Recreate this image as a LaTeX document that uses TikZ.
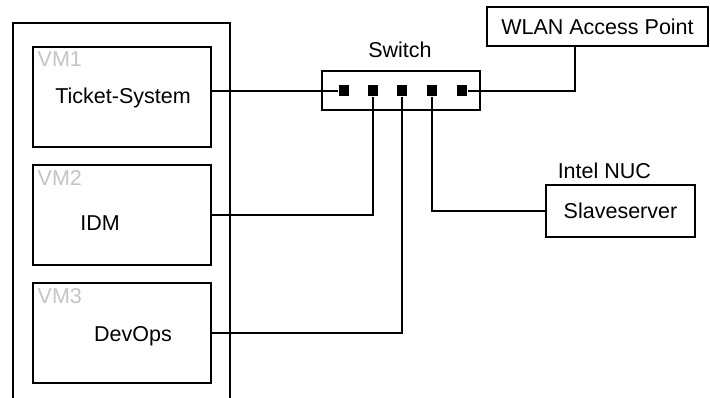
\documentclass[tikz,border=0pt]{standalone}
\usepackage{fontspec}
\setmainfont{Liberation Sans}
\definecolor{vmgray}{HTML}{C4C4C4}
\begin{document}
\begin{tikzpicture}[x=1pt,y=-1pt,line width=1.5pt,
  txt/.style={font=\fontsize{21.5}{25}\selectfont},
  box/.style={draw,rectangle,inner sep=0pt},
  vmbox/.style={box,minimum width=178pt,minimum height=100pt},
  port/.style={fill=black,rectangle,inner sep=0pt,minimum width=10pt,minimum height=11pt},
  vmlabel/.style={txt,text=vmgray,anchor=base west,inner sep=0pt}]
\useasboundingbox (0,0) rectangle (710,398);
% host (open at bottom)
\draw (13,399) -- (13,23) -- (230,23) -- (230,399);
% VMs
\node[vmbox] (vm1) at (122,97) {};
\node[vmbox] (vm2) at (122,215) {};
\node[vmbox] (vm3) at (122,333) {};
\node[vmlabel] (vm1l) at (37,67) {VM1};
\node[vmlabel] (vm2l) at (37,186) {VM2};
\node[vmlabel] (vm3l) at (37,304) {VM3};
\node[txt] (ts) at (123,98) {Ticket-System};
\node[txt] (idm) at (100,223) {IDM};
\node[txt] (dev) at (133,336) {DevOps};
% switch
\node[box,minimum width=158pt,minimum height=39pt] (sw) at (401,90.5) {};
\node[txt] (swl) at (400,50) {Switch};
\node[port] (p1) at (344,91) {};
\node[port] (p2) at (373,91) {};
\node[port] (p3) at (402,91) {};
\node[port] (p4) at (432,91) {};
\node[port] (p5) at (462,91) {};
% WLAN
\node[box,minimum width=221pt,minimum height=39pt,txt] (wlan) at (597.5,26.5) {WLAN Access Point};
% Slaveserver
\node[box,minimum width=149pt,minimum height=52pt,txt] (slave) at (620.5,211) {Slaveserver};
\node[txt,anchor=base west,inner sep=0pt] (nuc) at (557,179) {Intel NUC};
% wires
\coordinate (wl) at (575,46);
\draw (vm1.east |- p1) -- (p1);
\draw (vm2.east) -| (p2);
\draw (vm3.east) -| (p3);
\draw (p4) |- (slave.west);
\draw (p5) -| (wl);
\end{tikzpicture}
\end{document}
